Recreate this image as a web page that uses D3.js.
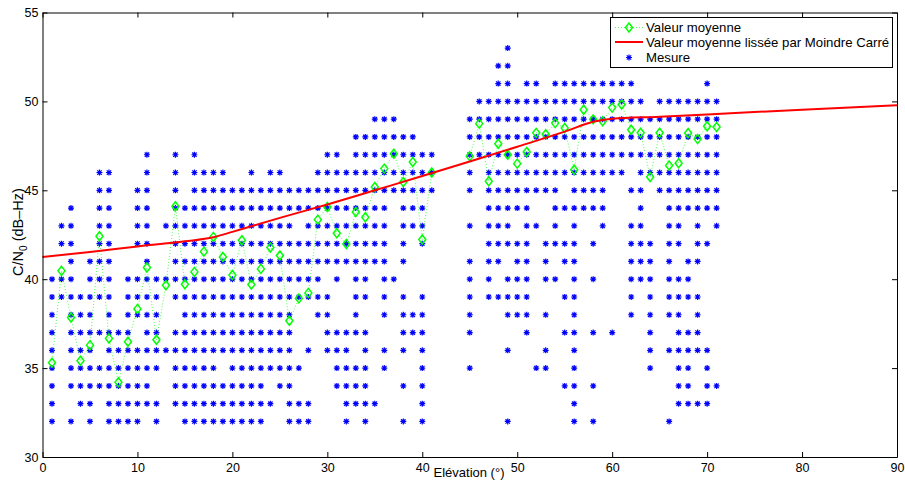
<!DOCTYPE html>
<html>
<head>
<meta charset="utf-8">
<script src="https://cdn.jsdelivr.net/npm/d3@7"></script>
<style>
  html, body { margin: 0; padding: 0; background: #fff; }
  text { font-family: "Liberation Sans", Arial, sans-serif; }
</style>
</head>
<body>
<svg id="chart" width="905" height="480"></svg>
<script>
// ---------------- DATA ----------------
const elevations = [1,2,3,4,5,6,7,8,9,10,11,12,13,14,15,16,17,18,19,20,21,22,23,24,25,26,27,28,29,30,31,32,33,34,35,36,37,38,39,40,41,45,46,47,48,49,50,51,52,53,54,55,56,57,58,59,60,61,62,63,64,65,66,67,68,69,70,71];

const measuredCN0 = [
  [32,33,34,35,36,37,38,39,40],
  [39,40,42,43],
  [32,34,35,36,37,38,39,40,41,42,43,44],
  [33,34,35,36,37,38,39],
  [32,33,34,35,36,37,38,39,40,41],
  [34,35,37,39,40,41,42,43,44,45,46],
  [32,33,34,35,36,37,38,39,40,41,42,43,44,45,46],
  [32,33,34,35,36,37],
  [32,33,34,35,36,37,38,39,40],
  [32,33,34,35,36,38,39,40,42,43,44,45],
  [33,34,35,36,37,38,39,40,41,42,43,44,45,46,47],
  [32,33,35,36,37,38,39,40],
  [36,40,43],
  [33,34,35,36,37,39,40,41,42,43,44,45,46,47],
  [32,33,34,35,36,37,38,39,40,41,42,43,44],
  [32,33,34,35,36,37,38,39,40,41,42,43,44,45,46,47],
  [32,33,34,35,36,37,38,39,40,41,42,43,44,45,46],
  [32,33,34,35,36,37,38,39,40,41,42,43,44,45,46],
  [32,33,34,36,37,38,39,40,41,42,43,44,45,46],
  [32,33,34,35,36,37,38,39,40,41,42,43,44,45],
  [32,33,34,35,36,37,38,39,40,41,42,43,44,45],
  [32,33,34,35,36,37,38,39,40,41,42,43,44,45,46],
  [32,33,34,35,36,37,38,39,40,41,42,43,44,45],
  [33,35,36,37,38,39,40,41,42,43,44,45,46],
  [34,35,36,37,38,39,40,41,42,43,44,45,46],
  [32,33,34,35,36,37,38,39,40,41,42,43,44,45],
  [32,33,35,39,40,41,42,44,45],
  [32,33,36,39,40,41,42,43,44,45],
  [38,39,40,41,42,43,44,45,46],
  [36,37,38,39,41,42,43,44,45,46,47],
  [34,35,36,37,40,41,42,43,44,45,46,47],
  [32,33,34,35,36,37,41,42,43,44,45,46],
  [33,34,35,37,38,39,40,41,42,43,44,45,46,47,48],
  [32,33,34,35,36,37,39,40,41,42,43,44,45,46,47,48],
  [33,41,42,43,44,45,46,47,48,49],
  [35,36,38,39,40,41,42,43,44,45,46,47,48,49],
  [40,45,46,47,48,49],
  [32,34,36,37,38,39,41,42,43,44,45,46,47,48],
  [37,38,43,44,45,46,47,48],
  [32,33,34,35,36,37,38,39,42,43,44,45,46,47],
  [45,46,47],
  [35,37,38,39,40,41,43,45,46,47,48,49],
  [47,48,49,50],
  [39,40,41,42,43,44,45,46,47,48,49,50],
  [39,41,42,43,44,45,46,47,48,49,50,51,52],
  [32,36,38,39,40,42,43,44,45,46,47,48,49,50,51,52,53],
  [38,39,40,41,42,44,45,46,47,48,49,50],
  [37,38,39,40,41,42,43,44,45,46,47,48,49,50,51],
  [35,43,45,46,47,48,49,50,51],
  [35,36,38,40,41,42,45,46,47,48,49,50],
  [40,42,43,44,45,46,47,48,49,50,51],
  [34,37,39,41,42,44,46,47,48,49,50,51],
  [32,33,34,35,36,37,38,39,40,41,42,43,44,45,46,47,48,49,50,51],
  [44,45,46,47,48,49,50,51],
  [32,34,37,40,42,44,45,46,47,48,49,50,51],
  [43,44,45,46,47,48,49,50,51],
  [37,46,47,48,49,50,51],
  [46,47,48,49,50,51],
  [38,39,40,41,42,43,45,47,48,49,50,51],
  [40,41,42,43,44,45,46,47,48,49,50],
  [35,36,37,38,39,40,41,42,46,47,48,49],
  [45,46,47,48,49,50],
  [32,36,38,39,40,41,42,43,44,45,46,47,48,49,50],
  [33,34,35,36,37,38,39,40,42,43,44,45,46,47,48,49,50],
  [33,34,35,36,37,39,40,41,44,45,46,47,48,49,50],
  [33,36,37,38,39,41,42,43,44,45,46,47,48,49,50],
  [33,34,35,36,42,44,45,46,47,48,49,50,51],
  [34,43,44,45,46,47,48,49,50]
];

const meanCN0 = [35.3,40.47,37.85,35.41,36.29,42.42,36.67,34.2,36.48,38.33,40.66,36.59,39.66,44.1,39.72,40.41,41.55,42.38,41.25,40.24,42.19,39.7,40.58,41.78,41.33,37.66,38.92,39.23,43.35,44.06,42.58,41.98,43.78,43.48,45.19,46.22,47.06,45.47,46.59,42.23,46.0,46.91,48.75,45.51,47.62,47.0,46.5,47.15,48.23,48.15,48.78,48.5,46.16,49.53,48.99,48.88,49.65,49.83,48.41,48.24,45.75,48.24,46.4,46.52,48.22,47.88,48.6,48.56];

const fitElevation = [0,5,10,15,18,20,22,25,30,35,40,45,50,55,58,60,65,70,80,90];
const fitCN0 = [41.25,41.53,41.84,42.13,42.36,42.66,42.98,43.45,44.2,45.0,45.8,46.62,47.45,48.3,48.85,49.02,49.14,49.27,49.53,49.78];

const xTicks = [0,10,20,30,40,50,60,70,80,90];
const yTicks = [30,35,40,45,50,55];

const legendLabels = ["Valeur moyenne", "Valeur moyenne lissée par Moindre Carré", "Mesure"];

// ---------------- DRAW ----------------
const svg = d3.select("#chart");
const pLeft = 42.5, pRight = 897, pTop = 12.5, pBottom = 457;
const x = d3.scaleLinear().domain([0, 90]).range([pLeft, pRight]);
const y = d3.scaleLinear().domain([30, 55]).range([pBottom, pTop]);

svg.append("rect").attr("width", 905).attr("height", 480).attr("fill", "#fff");

const starPath = "M-3,0H3M0,-3V3M-2.2,-2.2L2.2,2.2M-2.2,2.2L2.2,-2.2";
const diamondPath = "M0,-4.5L3.5,0L0,4.5L-3.5,0Z";

// measurements
const pts = [];
elevations.forEach((e, i) => measuredCN0[i].forEach(v => pts.push([e, v])));
svg.append("g").selectAll("path").data(pts).join("path")
  .attr("d", starPath)
  .attr("transform", d => `translate(${x(d[0])},${y(d[1])})`)
  .attr("stroke", "#0000ff").attr("stroke-width", 1.2).attr("fill", "none");

// mean line (broken where elevations are not consecutive)
const meanPts = [];
elevations.forEach((e, i) => {
  if (i > 0 && e - elevations[i - 1] > 1) meanPts.push(null);
  meanPts.push([e, meanCN0[i]]);
});
const meanLine = d3.line().defined(d => d !== null).x(d => x(d[0])).y(d => y(d[1]));
svg.append("path").attr("d", meanLine(meanPts))
  .attr("fill", "none").attr("stroke", "#00ff00").attr("stroke-width", 1)
  .attr("stroke-dasharray", "1,2").attr("opacity", 0.7);

svg.append("g").selectAll("path").data(elevations.map((e, i) => [e, meanCN0[i]])).join("path")
  .attr("d", diamondPath)
  .attr("transform", d => `translate(${x(d[0])},${y(d[1])})`)
  .attr("stroke", "#00ff00").attr("stroke-width", 1.5).attr("fill", "none");

// smoothed fit
const fitLine = d3.line().curve(d3.curveMonotoneX).x((d, i) => x(fitElevation[i])).y(d => y(d));
svg.append("path").attr("d", fitLine(fitCN0))
  .attr("fill", "none").attr("stroke", "#ff0000").attr("stroke-width", 2);

// axes
const fmt = d3.format("d");
const gB = svg.append("g").attr("transform", `translate(0,${pBottom})`)
  .call(d3.axisBottom(x).tickValues(xTicks).tickFormat(fmt).tickSizeInner(-5).tickSizeOuter(0).tickPadding(6));
const gL = svg.append("g").attr("transform", `translate(${pLeft},0)`)
  .call(d3.axisLeft(y).tickValues(yTicks).tickFormat(fmt).tickSizeInner(-5).tickSizeOuter(0).tickPadding(4));
const gT = svg.append("g").attr("transform", `translate(0,${pTop})`)
  .call(d3.axisTop(x).tickValues(xTicks).tickFormat("").tickSizeInner(-5).tickSizeOuter(0));
const gR = svg.append("g").attr("transform", `translate(${pRight},0)`)
  .call(d3.axisRight(y).tickValues(yTicks).tickFormat("").tickSizeInner(-5).tickSizeOuter(0));
[gB, gL, gT, gR].forEach(g => {
  g.selectAll("path.domain").attr("stroke", "#000").attr("stroke-width", 1);
  g.selectAll("line").attr("stroke", "#000").attr("stroke-width", 1);
  g.selectAll("text").attr("font-size", 12.5).attr("fill", "#000")
    .attr("font-family", "'Liberation Sans', Arial, sans-serif");
});

// axis labels
svg.append("text").attr("x", 469).attr("y", 477).attr("text-anchor", "middle")
  .attr("font-size", 13).text("Elévation (°)");
const yl = svg.append("text").attr("transform", "translate(23,232) rotate(-90)")
  .attr("text-anchor", "middle").attr("font-size", 14.5);
yl.append("tspan").text("C/N");
yl.append("tspan").attr("font-size", 10).attr("dy", 3.5).text("0");
yl.append("tspan").attr("dy", -3.5).text(" (dB–Hz)");

// legend
const lg = svg.append("g");
lg.append("rect").attr("x", 610.5).attr("y", 17.5).attr("width", 282).attr("height", 50)
  .attr("fill", "#fff").attr("stroke", "#000").attr("stroke-width", 1);
const rows = [27.5, 42, 57.5];
lg.append("line").attr("x1", 615).attr("x2", 643).attr("y1", rows[0]).attr("y2", rows[0])
  .attr("stroke", "#00ff00").attr("stroke-dasharray", "1,2").attr("opacity", 0.7);
lg.append("path").attr("d", diamondPath).attr("transform", `translate(629,${rows[0]})`)
  .attr("stroke", "#00ff00").attr("stroke-width", 1.5).attr("fill", "none");
lg.append("line").attr("x1", 615).attr("x2", 643).attr("y1", rows[1]).attr("y2", rows[1])
  .attr("stroke", "#ff0000").attr("stroke-width", 2);
lg.append("path").attr("d", starPath).attr("transform", `translate(629,${rows[2]})`)
  .attr("stroke", "#0000ff").attr("stroke-width", 1.2).attr("fill", "none");
legendLabels.forEach((t, i) => {
  lg.append("text").attr("x", 646).attr("y", rows[i]).attr("dy", "0.35em")
    .attr("font-size", 13.2).text(t);
});
</script>
</body>
</html>
